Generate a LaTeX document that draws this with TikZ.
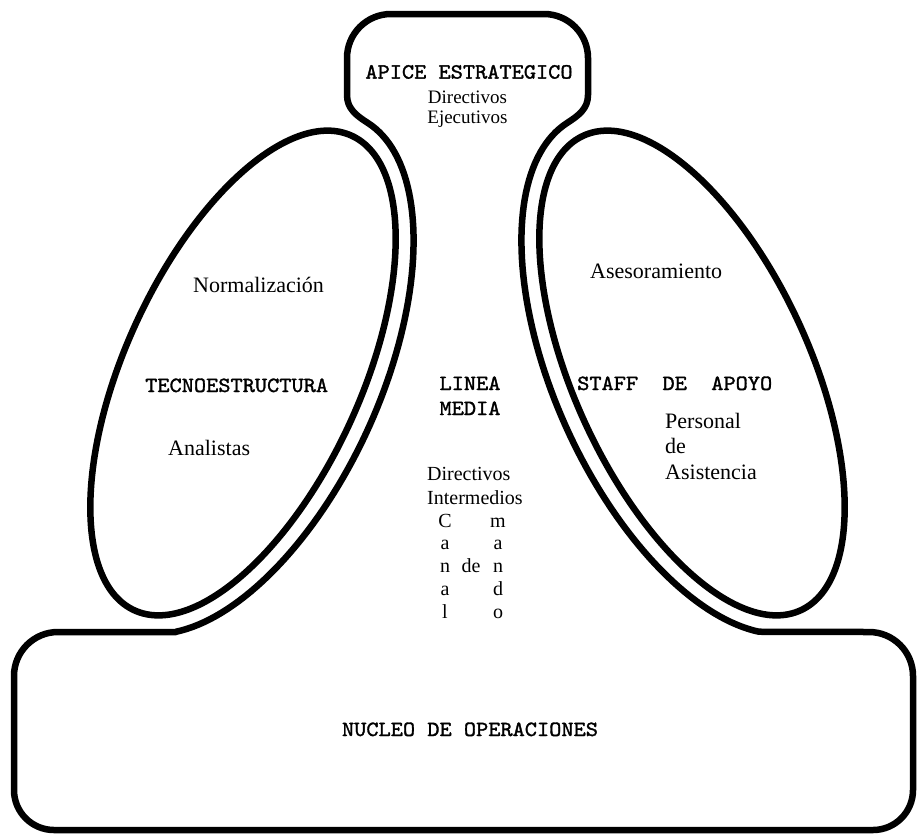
\documentclass[tikz,border=0pt]{standalone}
\usepackage{fontspec}
\setmainfont{Liberation Serif}
\newfontfamily\capsf{lmmono10-regular.otf}[FakeStretch=1.07,FakeBold=1.5]
\usetikzlibrary{shapes.geometric}
\begin{document}
\begin{tikzpicture}[x=1pt,y=-1pt,line join=round,
  outline/.style={line width=6.5pt},
  lobe/.style={draw,ellipse,line width=6.5pt,inner sep=0pt,minimum width=522pt,minimum height=236pt},
  capstxt/.style={font=\capsf\fontsize{21.7}{26}\selectfont,inner sep=0pt,anchor=base},
  capstxtw/.style={capstxt,anchor=base west},
  txtl/.style={font=\fontsize{22}{26}\selectfont,inner sep=0pt,anchor=base west},
  txtm/.style={font=\fontsize{20}{24}\selectfont,inner sep=0pt,anchor=base},
  txtmw/.style={txtm,anchor=base west},
  txts/.style={font=\fontsize{19}{22}\selectfont,inner sep=0pt,anchor=base}]
\useasboundingbox (0,0) rectangle (920,839);

% outer contour: apex, wraps around the lobes, operating core
\draw[outline] (391,14) -- (544,14) arc[start angle=90,end angle=0,radius=44pt] -- (588,95)
  to[out=-90,in=32.7] (567,123)
  -- plot[variable=\t,domain=4:160,samples=80] ({692-116.56*cos(\t)-124.56*sin(\t)},{373-254.58*cos(\t)+57.03*sin(\t)})
  -- (869,632) arc[start angle=90,end angle=0,radius=44pt]
  -- (913,790) arc[start angle=0,end angle=-90,radius=40pt]
  -- (54,830) arc[start angle=270,end angle=180,radius=40pt]
  -- (14,676) arc[start angle=180,end angle=90,radius=44pt]
  -- (176,632)
  -- plot[variable=\t,domain=160:4,samples=80] ({243+116.56*cos(\t)+124.56*sin(\t)},{373-254.58*cos(\t)+57.03*sin(\t)})
  to[out=147.3,in=-90] (347,95) -- (347,58) arc[start angle=180,end angle=90,radius=44pt] -- cycle;

% lobes
\node[lobe,rotate=65.4] (tecno) at (243,373) {};
\node[lobe,rotate=-65.4] (staffl) at (692,373) {};

% apex
\node[capstxt] (apice) at (469,78.6) {APICE ESTRATEGICO};
\node[txts] (dirE) at (467.5,103) {Directivos};
\node[txts] (eje) at (467.5,123) {Ejecutivos};

% technostructure
\node[txtl] (norm) at (193,292) {Normalización};
\node[capstxtw] (tecnot) at (145,392) {TECNOESTRUCTURA};
\node[txtl] (anal) at (168,455) {Analistas};

% middle line
\node[capstxt] (linea) at (470,390) {LINEA};
\node[capstxt] (media) at (470,415) {MEDIA};
\node[txtmw] (dirI) at (427,480) {Directivos};
\node[txtmw] (inter) at (427,504) {Intermedios};
\node[txtm] (c1) at (445,527) {C};
\node[txtm] (c2) at (445,549) {a};
\node[txtm] (c3) at (445,572) {n};
\node[txtm] (c4) at (445,595) {a};
\node[txtm] (c5) at (445,618) {l};
\node[txtm] (de1) at (471,572) {de};
\node[txtm] (m1) at (498,527) {m};
\node[txtm] (m2) at (498,549) {a};
\node[txtm] (m3) at (498,572) {n};
\node[txtm] (m4) at (498,595) {d};
\node[txtm] (m5) at (498,618) {o};

% support staff
\node[txtl] (ases) at (590,278) {Asesoramiento};
\node[capstxtw] (stafft) at (577,390) {STAFF\ \ DE\ \ APOYO};
\node[txtl] (pers) at (665,428) {Personal};
\node[txtl] (de2) at (665,453) {de};
\node[txtl] (asis) at (665,479) {Asistencia};

% operating core
\node[capstxt] (nucleo) at (470,736) {NUCLEO DE OPERACIONES};
\end{tikzpicture}
\end{document}
